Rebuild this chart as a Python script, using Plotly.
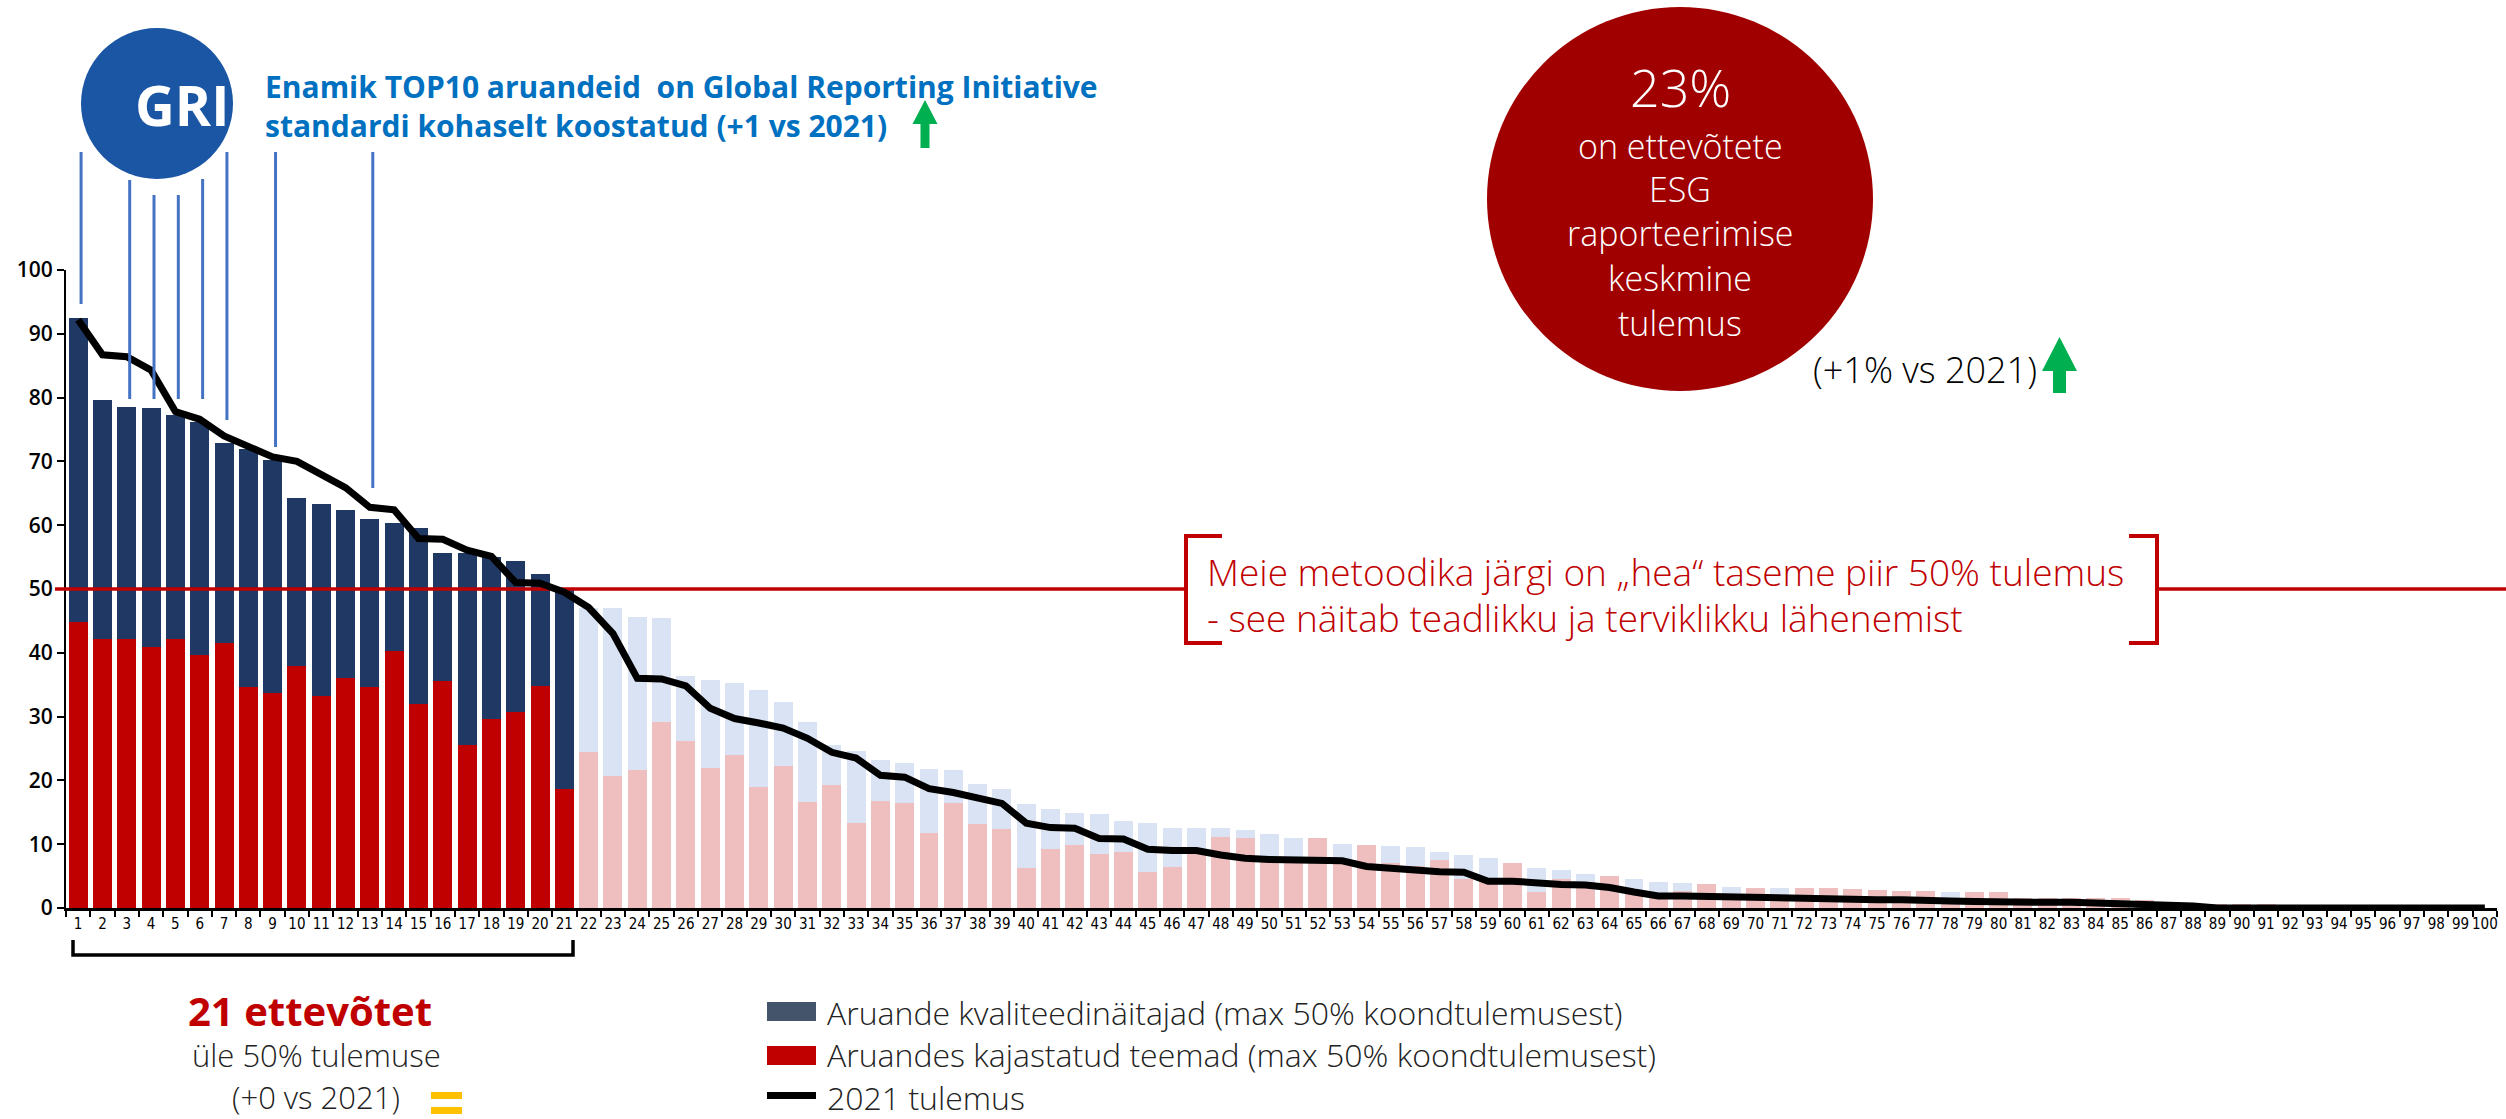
import plotly.graph_objects as go

# ---------------- data ----------------
companies = list(range(1, 101))
tick_labels = [str(i) for i in companies]

# Aruandes kajastatud teemad (red part, bottom of stack)
teemad = [44.8, 42.1, 42.2, 40.9, 42.2, 39.7, 41.6, 34.7, 33.7, 37.9,
          33.3, 36.0, 34.7, 40.3, 31.9, 35.6, 25.5, 29.7, 30.7, 34.8,
          18.6, 24.5, 20.7, 21.7, 29.2, 26.2, 22.0, 24.0, 19.0, 22.3,
          16.6, 19.3, 13.3, 16.8, 16.5, 11.8, 16.5, 13.2, 12.4, 6.3,
          9.2, 9.9, 8.4, 8.7, 5.7, 6.4, 8.4, 11.2, 10.9, 7.5,
          7.5, 11.0, 7.6, 9.8, 7.1, 6.6, 7.5, 4.5, 4.2, 7.1,
          2.5, 4.6, 4.0, 5.0, 2.9, 2.4, 2.6, 3.8, 2.1, 3.2,
          1.9, 3.2, 3.1, 3.0, 2.9, 2.7, 2.7, 1.4, 2.5, 2.5,
          1.6, 1.6, 1.6, 1.5, 1.5, 1.2, 0.9, 0.6, 0.7, 0.7,
          0.7, 0.5, 0.5, 0, 0, 0, 0, 0, 0, 0]

# Aruande kvaliteedinäitajad (navy part, stacked on top)
kvaliteet = [47.6, 37.6, 36.4, 37.5, 35.1, 36.4, 31.3, 37.3, 36.5, 26.3,
             30.1, 26.4, 26.3, 20.1, 27.6, 20.1, 30.1, 25.3, 23.7, 17.6,
             31.3, 22.6, 26.4, 23.9, 16.3, 10.1, 13.8, 11.3, 15.2, 10.0,
             12.5, 6.2, 11.3, 6.4, 6.2, 10.0, 5.1, 6.2, 6.3, 10.0,
             6.3, 5.0, 6.3, 4.9, 7.6, 6.2, 4.2, 1.3, 1.3, 4.1,
             3.5, 0, 2.4, 0, 2.6, 3.0, 1.3, 3.8, 3.7, 0,
             3.8, 1.3, 1.3, 0, 1.7, 1.6, 1.3, 0, 1.2, 0,
             1.3, 0, 0, 0, 0, 0, 0, 1.1, 0, 0,
             0, 0, 0, 0, 0, 0, 0, 0, 0, 0,
             0, 0, 0, 0, 0, 0, 0, 0, 0, 0]

# 2021 tulemus
tulemus_2021 = [92.2, 86.7, 86.4, 84.3, 77.8, 76.6, 74.0, 72.4, 70.7, 70.0,
                67.9, 65.9, 62.8, 62.4, 57.9, 57.8, 56.1, 55.1, 51.0, 50.9,
                49.5, 47.1, 43.0, 36.0, 35.9, 34.8, 31.3, 29.7, 29.0, 28.2,
                26.6, 24.4, 23.5, 20.8, 20.5, 18.7, 18.1, 17.3, 16.4, 13.3,
                12.6, 12.5, 10.9, 10.8, 9.2, 9.0, 9.0, 8.3, 7.8, 7.6,
                7.6, 7.5, 7.4, 6.5, 6.2, 5.9, 5.7, 5.6, 4.2, 4.2,
                3.9, 3.7, 3.6, 3.2, 2.5, 1.9, 1.9, 1.8, 1.7, 1.6,
                1.6, 1.5, 1.4, 1.3, 1.3, 1.3, 1.3, 1.1, 1.0, 0.9,
                0.9, 0.9, 0.9, 0.8, 0.7, 0.7, 0.6, 0.3, 0, 0,
                0, 0, 0, 0, 0, 0, 0, 0, 0, 0]

good_level = 50
n_above = 21
gri_companies = [1, 3, 4, 5, 6, 7, 9, 13]

legend_labels = ["Aruande kvaliteedinäitajad (max 50% koondtulemusest)",
                 "Aruandes kajastatud teemad (max 50% koondtulemusest)",
                 "2021 tulemus"]

# ---------------- geometry helpers ----------------
W, H = 2506, 1119
ML, MR, MT, MB = 66, 9, 270, 211
PW, PH = W - ML - MR, H - MT - MB


def fx(p):
    return (p - ML) / PW


def fy(p):
    return (H - MB - p) / PH


def dx(p):
    return 0.5 + (p - ML) / PW * 100


FONT = "Open Sans"
NAVY, RED = "#203864", "#C00000"
LBLUE, LPINK = "#DAE3F3", "#EFBFBF"

red_cols = [RED if c <= n_above else LPINK for c in companies]
navy_cols = [NAVY if c <= n_above else LBLUE for c in companies]

fig = go.Figure()
fig.add_trace(go.Bar(x=companies, y=teemad, marker=dict(color=red_cols, line_width=0),
                     name=legend_labels[1], showlegend=False))
fig.add_trace(go.Bar(x=companies, y=kvaliteet, marker=dict(color=navy_cols, line_width=0),
                     name=legend_labels[0], showlegend=False))
# 50% "good level" reference line (left part, under the 2021 line)
fig.add_trace(go.Scatter(x=[0.5, dx(1186)], y=[good_level, good_level], mode="lines",
                         line=dict(color=RED, width=3.5), hoverinfo="skip", showlegend=False))
fig.add_trace(go.Scatter(x=companies, y=tulemus_2021, mode="lines",
                         line=dict(color="black", width=7), name=legend_labels[2], showlegend=False))

shapes = []
# red line overhangs
shapes.append(dict(type="line", xref="paper", yref="y", x0=fx(55), x1=0, y0=good_level, y1=good_level,
                   line=dict(color=RED, width=3.5)))
shapes.append(dict(type="line", xref="paper", yref="y", x0=fx(2157), x1=fx(2506), y0=good_level, y1=good_level,
                   line=dict(color=RED, width=3.5)))
# brackets around the methodology text
shapes.append(dict(type="path", xref="paper", yref="paper",
                   path=f"M {fx(1222)},{fy(536)} L {fx(1186)},{fy(536)} L {fx(1186)},{fy(643)} L {fx(1222)},{fy(643)}",
                   line=dict(color=RED, width=4)))
shapes.append(dict(type="path", xref="paper", yref="paper",
                   path=f"M {fx(2129)},{fy(536)} L {fx(2157)},{fy(536)} L {fx(2157)},{fy(643)} L {fx(2129)},{fy(643)}",
                   line=dict(color=RED, width=4)))

# GRI circle
shapes.append(dict(type="circle", xref="paper", yref="paper", x0=fx(81), x1=fx(233), y0=fy(179), y1=fy(28),
                   fillcolor="#1A56A4", line_width=0, layer="above"))
# GRI connector lines
gri_top_px = [152, 180, 195, 195, 179, 152, 152, 152]
gri_bottom_px = [304, 399, 399, 399, 399, 420, 447, 488]
for c, t, b in zip(gri_companies, gri_top_px, gri_bottom_px):
    shapes.append(dict(type="line", xref="x", yref="paper", x0=c + 0.12, x1=c + 0.12, y0=fy(t), y1=fy(b),
                       line=dict(color="#4472C4", width=3)))

# red average circle
shapes.append(dict(type="circle", xref="paper", yref="paper", x0=fx(1487), x1=fx(1873), y0=fy(391), y1=fy(7),
                   fillcolor="#A00000", line_width=0))


def arrow(xc, top, base, bottom, hw, sw):
    return (f"M {fx(xc)},{fy(top)} L {fx(xc + hw)},{fy(base)} L {fx(xc + sw)},{fy(base)} "
            f"L {fx(xc + sw)},{fy(bottom)} L {fx(xc - sw)},{fy(bottom)} L {fx(xc - sw)},{fy(base)} "
            f"L {fx(xc - hw)},{fy(base)} Z")


shapes.append(dict(type="path", xref="paper", yref="paper", path=arrow(925, 100, 124, 148, 12.5, 4.5),
                   fillcolor="#00B050", line_width=0))
shapes.append(dict(type="path", xref="paper", yref="paper", path=arrow(2059.5, 337, 371, 393, 17.5, 6.5),
                   fillcolor="#00B050", line_width=0))

# bracket under top 21 companies
shapes.append(dict(type="path", xref="paper", yref="paper",
                   path=f"M {fx(73)},{fy(940)} L {fx(73)},{fy(955)} L {fx(573)},{fy(955)} L {fx(573)},{fy(940)}",
                   line=dict(color="black", width=3.5)))
# yellow equals sign
shapes.append(dict(type="rect", xref="paper", yref="paper", x0=fx(431), x1=fx(462), y0=fy(1099), y1=fy(1092),
                   fillcolor="#FFC000", line_width=0))
shapes.append(dict(type="rect", xref="paper", yref="paper", x0=fx(431), x1=fx(462), y0=fy(1114), y1=fy(1107),
                   fillcolor="#FFC000", line_width=0))
# legend keys
shapes.append(dict(type="rect", xref="paper", yref="paper", x0=fx(767), x1=fx(816), y0=fy(1021), y1=fy(1002),
                   fillcolor="#44546A", line_width=0))
shapes.append(dict(type="rect", xref="paper", yref="paper", x0=fx(767), x1=fx(816), y0=fy(1065), y1=fy(1046),
                   fillcolor=RED, line_width=0))
shapes.append(dict(type="rect", xref="paper", yref="paper", x0=fx(767), x1=fx(816), y0=fy(1099), y1=fy(1092),
                   fillcolor="black", line_width=0))

ann = []


def text(t, x, y, size, color, xanchor="center", weight=400):
    ann.append(dict(text=t, x=fx(x), y=fy(y), xref="paper", yref="paper", showarrow=False,
                    xanchor=xanchor, yanchor="middle", borderpad=0,
                    font=dict(family=FONT, size=size, color=color, weight=weight)))


text("<b>GRI</b>", 182, 104, 55, "white")
text("<b>Enamik TOP10 aruandeid \u00a0on Global Reporting Initiative</b>", 264, 86, 30, "#0070C0", "left")
text("<b>standardi kohaselt koostatud (+1 vs 2021)</b>", 264, 125, 30, "#0070C0", "left")

text("23%", 1680, 86, 52, "white", weight=300)
for t, y in zip(["on ettevõtete", "ESG", "raporteerimise", "keskmine", "tulemus"],
                [146, 189, 233, 278, 323]):
    text(t, 1680, y, 34, "white", weight=300)
text("(+1% vs 2021)", 2038, 369, 36, "black", "right", weight=300)

text("Meie metoodika järgi on „hea“ taseme piir 50% tulemus", 1206, 571, 37, RED, "left", weight=300)
text("- see näitab teadlikku ja terviklikku lähenemist", 1206, 617, 37, RED, "left", weight=300)

text("<b>21 ettevõtet</b>", 310, 1010, 40, RED)
text("üle 50% tulemuse", 316, 1055, 31, "#222222", weight=300)
text("(+0 vs 2021)", 316, 1097, 31, "#222222", weight=300)

for lab, y in zip(legend_labels, [1012, 1054, 1097]):
    text(lab, 826, y, 32, "#222222", "left", weight=300)

fig.update_layout(
    width=W, height=H, autosize=False,
    margin=dict(l=ML, r=MR, t=MT, b=MB, pad=0),
    paper_bgcolor="white", plot_bgcolor="white",
    barmode="stack", bargap=0.22,
    showlegend=False,
    shapes=shapes, annotations=ann,
    font=dict(family=FONT, color="black"),
    xaxis=dict(range=[0.5, 100.5], tickmode="array", tickvals=companies, ticktext=tick_labels,
               ticks="", showgrid=False, zeroline=False, showline=True, linecolor="black", linewidth=3,
               tickfont=dict(family="Liberation Sans Narrow, DejaVu Sans Condensed, sans-serif", size=15, color="black"),
               tickangle=0,
               minor=dict(tickmode="array", tickvals=[i + 0.5 for i in range(0, 101)], ticks="outside",
                          ticklen=6, tickcolor="black", tickwidth=1.5, showgrid=False)),
    yaxis=dict(range=[0, 100], tickmode="array", tickvals=list(range(0, 101, 10)),
               ticks="outside", ticklen=7, tickwidth=1.5, tickcolor="black",
               showgrid=False, zeroline=False, showline=True, linecolor="black", linewidth=2,
               tickfont=dict(family=FONT, size=21, color="black", weight=600)),
)

fig.write_html("out.html", config={"displayModeBar": False},
               post_script="document.body.style.margin='0';")
